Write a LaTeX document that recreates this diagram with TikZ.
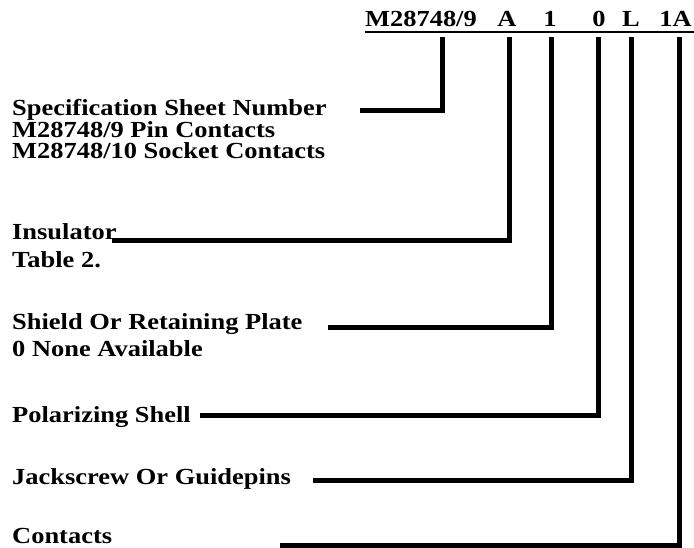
\documentclass[tikz,border=0pt]{standalone}
\usepackage{fontspec}
\setmainfont{Liberation Serif}[FakeStretch=1.15]
\begin{document}
\begin{tikzpicture}[x=1pt,y=-1pt,
  lbl/.style={anchor=base west, inner sep=0pt, font=\fontsize{23}{23}\selectfont\bfseries},
  hdr/.style={anchor=base, inner sep=0pt, font=\fontsize{23}{23}\selectfont\bfseries},
  conn/.style={line width=5pt, line join=miter, line cap=butt},
  uline/.style={line width=2pt}]
\useasboundingbox (0,0) rectangle (694,548);
% header
\node[hdr, anchor=base east] (hM) at (477,27) {M28748/9};
\node[hdr] (hA) at (507,27) {A};
\node[hdr] (h1) at (550,27) {1};
\node[hdr] (h0) at (599,27) {0};
\node[hdr] (hL) at (631,27) {L};
\node[hdr, anchor=base east] (h1A) at (692,27) {1A};
\coordinate (ulL) at (hM.base west);
\coordinate (ulR) at (694,27);
\draw[uline] ([yshift=-5pt]ulL) -- ([yshift=-5pt]ulR);
% labels
\node[lbl] (spec1) at (12,116) {Specification Sheet Number};
\node[lbl] (spec2) at (12,137.5) {M28748/9 Pin Contacts};
\node[lbl] (spec3) at (12,159) {M28748/10 Socket Contacts};
\node[lbl] (ins1) at (12,240) {Insulator};
\node[lbl] (ins2) at (12,268) {Table 2.};
\node[lbl] (shl1) at (12,330) {Shield Or Retaining Plate};
\node[lbl] (shl2) at (12,356) {0 None Available};
\node[lbl] (pol) at (12,422) {Polarizing Shell};
\node[lbl] (jck) at (12,484) {Jackscrew Or Guidepins};
\node[lbl] (con) at (12,543) {Contacts};
% connector coordinates
\coordinate (tS) at (442,37); \coordinate (cS) at (442,111); \coordinate (sS) at (360,111);
\coordinate (tI) at (509,37); \coordinate (cI) at (509,241); \coordinate (sI) at (112,241);
\coordinate (tR) at (551,37); \coordinate (cR) at (551,328); \coordinate (sR) at (328,328);
\coordinate (tP) at (598,37); \coordinate (cP) at (598,415); \coordinate (sP) at (200,415);
\coordinate (tJ) at (631,37); \coordinate (cJ) at (631,480); \coordinate (sJ) at (313,480);
\coordinate (tC) at (679,37); \coordinate (cC) at (679,545); \coordinate (sC) at (280,545);
\draw[conn] (sS) -- (cS) -- (tS);
\draw[conn] (sI) -- (cI) -- (tI);
\draw[conn] (sR) -- (cR) -- (tR);
\draw[conn] (sP) -- (cP) -- (tP);
\draw[conn] (sJ) -- (cJ) -- (tJ);
\draw[conn] (sC) -- (cC) -- (tC);
\end{tikzpicture}
\end{document}
